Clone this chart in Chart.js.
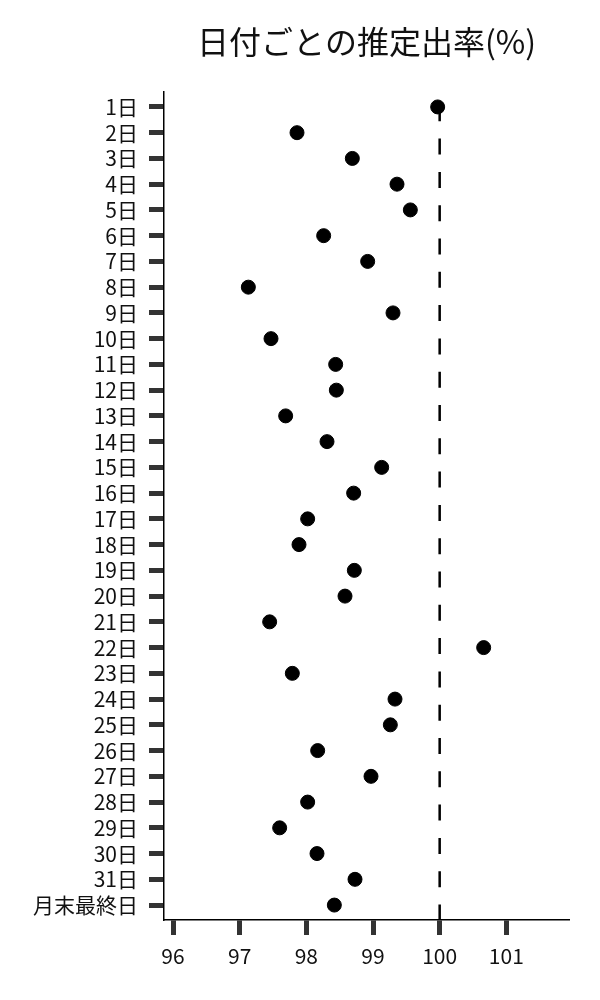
<!DOCTYPE html>
<html>
<head>
<meta charset="utf-8">
<script src="https://cdn.jsdelivr.net/npm/chart.js@4"></script>
<style>
  html, body { margin: 0; padding: 0; background: #fff; }
  #wrap { width: 600px; height: 1000px; }
</style>
</head>
<body>
<div id="wrap"><canvas id="rateChart"></canvas></div>
<script>
// データ
const days = ['1日', '2日', '3日', '4日', '5日', '6日', '7日', '8日', '9日', '10日',
    '11日', '12日', '13日', '14日', '15日', '16日', '17日', '18日', '19日', '20日',
    '21日', '22日', '23日', '24日', '25日', '26日', '27日', '28日', '29日', '30日',
    '31日', '月末最終日'];
const rates = [99.97, 97.86, 98.69, 99.36, 99.56, 98.26, 98.92, 97.13, 99.30, 97.47,
    98.44, 98.45, 97.69, 98.31, 99.13, 98.71, 98.02, 97.89, 98.72, 98.58,
    97.45, 100.66, 97.79, 99.33, 99.26, 98.17, 98.97, 98.02, 97.60, 98.16,
    98.73, 98.42];
const xTicks = [96, 97, 98, 99, 100, 101];
const refLine = 100;
const titleText = '日付ごとの推定出率(%)';

const FONT = "'Noto Sans CJK JP', 'Noto Sans', sans-serif";

// 100%の破線
const refLinePlugin = {
    id: 'refLine',
    beforeDatasetsDraw(chart) {
        const c = chart.ctx;
        const area = chart.chartArea;
        const x = chart.scales.x.getPixelForValue(refLine);
        c.save();
        c.strokeStyle = '#000';
        c.lineWidth = 2.5;
        c.setLineDash([16, 17.3]);
        c.lineDashOffset = 20;
        c.beginPath();
        c.moveTo(x, area.top);
        c.lineTo(x, area.bottom);
        c.stroke();
        c.restore();
    }
};

// タイトル（プロット領域の中央）
const titlePlugin = {
    id: 'plotTitle',
    afterDraw(chart) {
        const c = chart.ctx;
        const area = chart.chartArea;
        c.save();
        c.font = '32px ' + FONT;
        c.fillStyle = '#111';
        c.textAlign = 'center';
        c.textBaseline = 'middle';
        c.fillText(titleText, (area.left + area.right) / 2, 42);
        c.restore();
    }
};

const ctx = document.getElementById('rateChart').getContext('2d');

new Chart(ctx, {
    type: 'scatter',
    data: {
        datasets: [{
            data: rates.map((v, i) => ({ x: v, y: i })),
            backgroundColor: '#000',
            borderColor: '#000',
            pointRadius: 7,
            pointHoverRadius: 7
        }]
    },
    options: {
        responsive: true,
        maintainAspectRatio: false,
        animation: false,
        layout: { padding: { top: 92, right: 31, left: 0, bottom: 0 } },
        plugins: {
            legend: { display: false },
            tooltip: { enabled: false },
            title: { display: false }
        },
        scales: {
            x: {
                type: 'linear',
                min: 95.865,
                max: 101.94,
                afterBuildTicks: axis => { axis.ticks = xTicks.map(v => ({ value: v })); },
                afterFit: axis => { axis.height = 80; },
                grid: {
                    drawOnChartArea: false,
                    drawTicks: true,
                    tickLength: 15,
                    tickWidth: 5,
                    tickColor: '#333'
                },
                border: { display: true, color: '#000', width: 1.5 },
                ticks: {
                    color: '#111',
                    padding: 8,
                    font: { family: FONT, size: 21 }
                }
            },
            y: {
                type: 'linear',
                reverse: true,
                min: -0.58,
                max: days.length - 1 + 0.58,
                afterBuildTicks: axis => { axis.ticks = days.map((d, i) => ({ value: i })); },
                afterFit: axis => { axis.width = 164; },
                grid: {
                    drawOnChartArea: false,
                    drawTicks: true,
                    tickLength: 15,
                    tickWidth: 5,
                    tickColor: '#333'
                },
                border: { display: true, color: '#000', width: 1.5 },
                ticks: {
                    color: '#111',
                    padding: 11,
                    autoSkip: false,
                    font: { family: FONT, size: 21 },
                    callback: v => days[v]
                }
            }
        }
    },
    plugins: [refLinePlugin, titlePlugin]
});
</script>
</body>
</html>
